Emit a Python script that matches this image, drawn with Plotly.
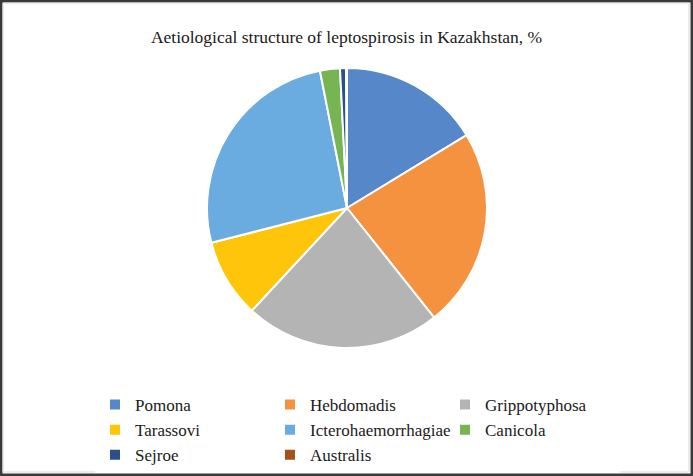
import plotly.graph_objects as go

labels = ["Pomona", "Hebdomadis", "Grippotyphosa", "Tarassovi",
          "Icterohaemorrhagiae", "Canicola", "Sejroe", "Australis"]
values = [16.3, 23.0, 22.6, 9.1, 25.9, 2.3, 0.7, 0.1]
colors = ["#5687C9", "#F59240", "#B4B4B4", "#FFC50A",
          "#6AABE0", "#77B552", "#2D4E8A", "#A4511A"]

W, H = 693, 476

fig = go.Figure(go.Pie(
    labels=labels, values=values, sort=False, direction="clockwise",
    rotation=0, textinfo="none",
    marker=dict(colors=colors, line=dict(color="white", width=2)),
    domain=dict(x=[207 / W, 487 / W], y=[1 - 348 / H, 1 - 68 / H]),
))

fig.update_layout(
    width=W, height=H,
    margin=dict(l=0, r=0, t=0, b=0),
    paper_bgcolor="white", plot_bgcolor="white",
    font=dict(family="Liberation Serif, Times New Roman, serif", color="#1a1a1a"),
    title=dict(text="Aetiological structure of leptospirosis in Kazakhstan, %",
               x=0.5, xanchor="center", y=1 - 37 / H, yanchor="middle",
               font=dict(size=17.5, color="#1a1a1a")),
    legend=dict(orientation="h", x=95 / W, xanchor="left",
                y=1 - 387 / H, yanchor="top",
                entrywidth=130, entrywidthmode="pixels",
                font=dict(size=17, color="#1a1a1a"),
                traceorder="normal"),
    shapes=[dict(type="rect", xref="paper", yref="paper", x0=0, x1=1, y0=0, y1=1,
                 line=dict(color="#3a3a3a", width=5), fillcolor="rgba(0,0,0,0)"),
            dict(type="rect", xref="paper", yref="paper",
                 x0=3 / W, x1=1 - 4 / W, y0=4 / H, y1=1 - 3 / H,
                 line=dict(color="#d9d9d9", width=1), fillcolor="rgba(0,0,0,0)")],
)

fig.write_html("out.html")
